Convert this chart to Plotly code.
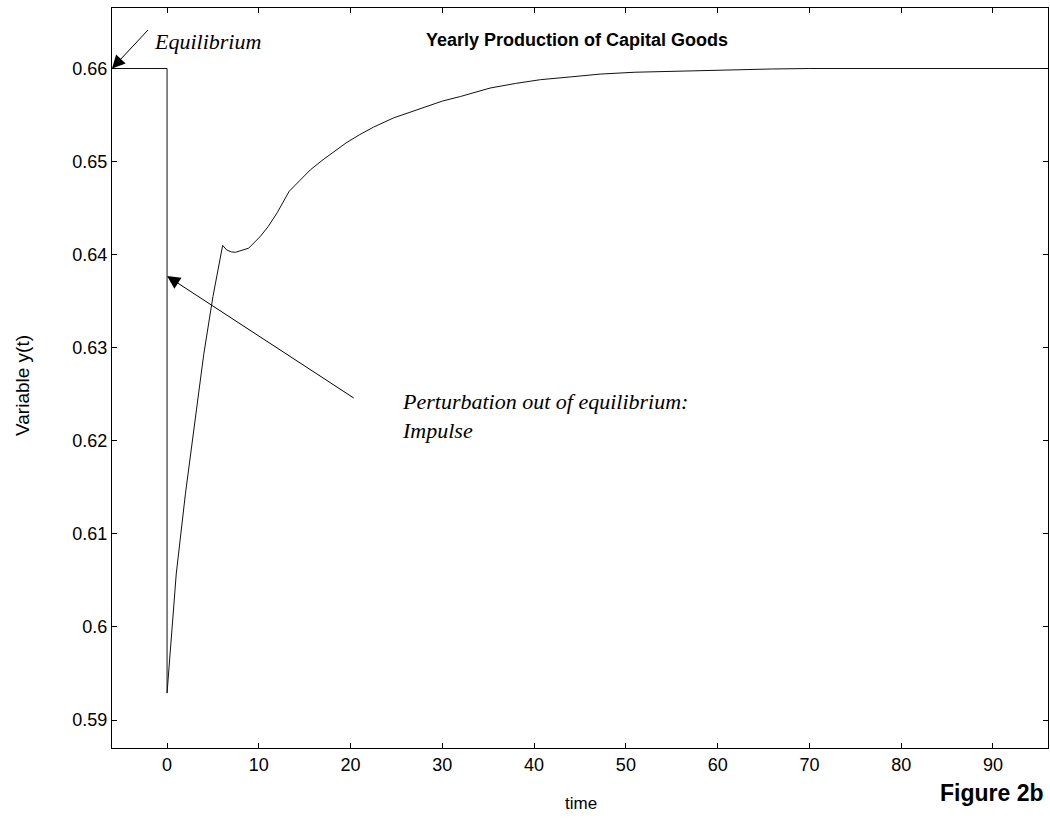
import plotly.graph_objects as go

# data
time = [-6, 0, 0, 0.54, 1, 2, 3, 4, 5, 6.06, 6.5, 7, 7.44, 8, 8.9, 10.2, 11, 12, 13.3,
        14.5, 15.6, 17, 18.2, 19.5, 21, 22.5, 24.7, 26.5, 28.3, 30, 32, 35.2, 38, 40.7,
        44, 47.2, 51, 54.5, 58, 61.7, 66, 70, 96]
y_values = [0.66, 0.66, 0.5929, 0.5997, 0.6057, 0.6143, 0.6219, 0.6293, 0.6355, 0.6410,
            0.6405, 0.6403, 0.64025, 0.6404, 0.6407, 0.6420, 0.6430, 0.6445, 0.6468,
            0.6480, 0.6491, 0.6502, 0.6511, 0.6520, 0.6529, 0.6537, 0.6547, 0.6553,
            0.6559, 0.6565, 0.6570, 0.6579, 0.6584, 0.6588, 0.6591, 0.6594, 0.6596,
            0.6597, 0.6598, 0.6599, 0.65995, 0.66, 0.66]

x_ticks = [0, 10, 20, 30, 40, 50, 60, 70, 80, 90]
y_ticks = [0.59, 0.60, 0.61, 0.62, 0.63, 0.64, 0.65, 0.66]
y_tick_labels = ["0.59", "0.6", "0.61", "0.62", "0.63", "0.64", "0.65", "0.66"]

eq_tip = (-6, 0.66)
eq_tail = (-1.92, 0.6643)
pert_tip = (0, 0.6377)
pert_tail = (20.5, 0.6245)

fig = go.Figure()
fig.add_trace(go.Scatter(x=time, y=y_values, mode="lines",
                         line=dict(color="#111111", width=1), showlegend=False))

axis_common = dict(showline=True, linecolor="black", linewidth=1.2, mirror="ticks",
                   ticks="inside", ticklen=5, tickcolor="black", showgrid=False,
                   zeroline=False,
                   tickfont=dict(family="Arial, Liberation Sans", size=18, color="black"))

fig.update_xaxes(range=[-6, 96], tickvals=x_ticks, **axis_common)
fig.update_yaxes(range=[0.587, 0.6665], tickvals=y_ticks, ticktext=y_tick_labels,
                 **axis_common)

ann = []
ann.append(dict(x=eq_tip[0], y=eq_tip[1], ax=eq_tail[0], ay=eq_tail[1], xref="x", yref="y",
                axref="x", ayref="y", text="", showarrow=True, arrowhead=2, arrowsize=2.6,
                arrowwidth=1, arrowcolor="black"))
ann.append(dict(x=pert_tip[0], y=pert_tip[1], ax=pert_tail[0], ay=pert_tail[1], xref="x",
                yref="y", axref="x", ayref="y", text="", showarrow=True, arrowhead=2,
                arrowsize=2.6, arrowwidth=1, arrowcolor="black"))
serif = dict(family="Liberation Serif, Times New Roman, serif", size=22, color="black")
ann.append(dict(x=(152 - 112) / 936, y=(748 - 42) / 740, xref="paper", yref="paper",
                text="<i>Equilibrium</i>", showarrow=False, xanchor="left", yanchor="middle",
                font=serif))
ann.append(dict(x=(400 - 112) / 936, y=(748 - 416) / 740, xref="paper", yref="paper",
                text="<i>Perturbation out of equilibrium:<br>Impulse</i>", showarrow=False,
                xanchor="left", yanchor="middle", align="left", font=serif))
ann.append(dict(x=(577 - 112) / 936, y=(748 - 40) / 740, xref="paper", yref="paper",
                text="<b>Yearly Production of Capital Goods</b>", showarrow=False,
                xanchor="center", yanchor="middle",
                font=dict(family="Arial, Liberation Sans", size=18, color="black")))
ann.append(dict(x=(581 - 112) / 936, y=(748 - 803) / 740, xref="paper", yref="paper",
                text="time", showarrow=False, xanchor="center", yanchor="middle",
                font=dict(family="Arial, Liberation Sans", size=17, color="black")))
ann.append(dict(x=(22 - 112) / 936, y=(748 - 386) / 740, xref="paper", yref="paper",
                text="Variable y(t)", showarrow=False, xanchor="center", yanchor="middle",
                textangle=-90,
                font=dict(family="Arial, Liberation Sans", size=19, color="black")))
ann.append(dict(x=(1046 - 112) / 936, y=(748 - 793) / 740, xref="paper", yref="paper",
                text="<b>Figure 2b</b>", showarrow=False, xanchor="right", yanchor="middle",
                font=dict(family="Arial, Liberation Sans", size=23, color="black")))

fig.update_layout(width=1050, height=820, margin=dict(l=112, r=2, t=8, b=72),
                  plot_bgcolor="white", paper_bgcolor="white", annotations=ann)

fig.write_html("out.html", config={"displayModeBar": False},
               post_script="document.body.style.margin='0';"
                           "document.body.style.overflow='hidden';")
